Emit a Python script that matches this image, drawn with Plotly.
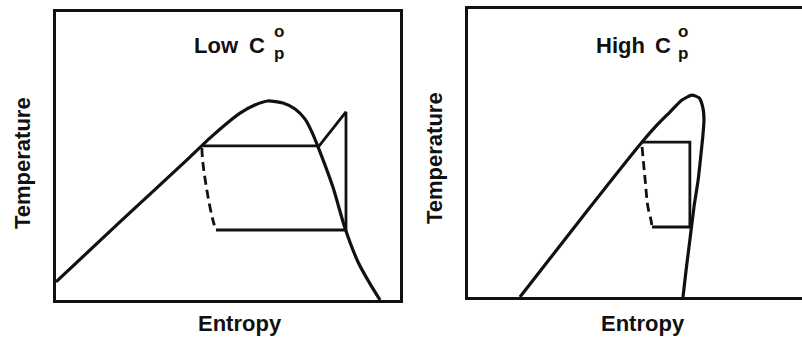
import plotly.graph_objects as go

W, H = 802, 338

# --- Low Cp panel (entropy / temperature in arbitrary 0-100 units) ---
low_dome_s = [0.0, 18.6, 39.0, 44.8, 49.1, 53.5, 57.8, 61.6, 66.0, 69.5, 72.4, 74.4,
              76.2, 80.5, 84.0, 87.8, 91.3, 94.2]
low_dome_t = [6.3, 27.1, 49.7, 56.3, 60.8, 64.9, 67.7, 69.1, 68.4, 66.3, 62.8, 58.3,
              53.1, 39.2, 25.0, 13.2, 5.6, 0.0]

low_cycle_s = [46.5, 84.3, 84.3, 76.5, 42.7]
low_cycle_t = [24.3, 24.3, 65.3, 53.5, 53.5]

low_pump_s = [42.4, 42.7, 44.2, 45.6, 46.5]
low_pump_t = [52.8, 47.6, 35.8, 27.8, 24.3]

# --- High Cp panel ---
high_dome_s = [15.1, 32.8, 50.6, 54.7, 58.7, 62.2, 65.1, 67.2, 68.3, 68.6, 68.3, 67.7,
               66.9, 65.7, 64.5, 63.4, 62.5]
high_dome_t = [0.0, 27.1, 53.8, 59.4, 64.2, 68.4, 70.1, 69.1, 65.6, 61.5, 56.3, 49.3,
               40.6, 31.3, 19.8, 9.4, 0.0]

high_cycle_s = [53.5, 64.5, 64.5, 50.6]
high_cycle_t = [24.3, 24.3, 53.8, 53.8]

high_pump_s = [50.6, 51.5, 52.3, 53.2, 53.5]
high_pump_t = [52.1, 40.6, 31.3, 26.7, 24.3]

panel_titles = ["Low", "High"]
x_title = "Entropy"
y_title = "Temperature"

INK = "#111111"
FONT = "Liberation Sans, Arial, sans-serif"


def px(x):
    return x / W


def py(y):
    return 1 - y / H


fig = go.Figure()

solid = dict(color=INK, width=3.2)
thin = dict(color=INK, width=2.8)
dash = dict(color=INK, width=2.8, dash="9px,5px")

fig.add_trace(go.Scatter(x=low_dome_s, y=low_dome_t, mode="lines",
                         line=dict(solid, shape="spline", smoothing=0.6),
                         xaxis="x", yaxis="y"))
fig.add_trace(go.Scatter(x=low_cycle_s, y=low_cycle_t, mode="lines", line=thin,
                         xaxis="x", yaxis="y"))
fig.add_trace(go.Scatter(x=low_pump_s, y=low_pump_t, mode="lines",
                         line=dict(dash, shape="spline"), xaxis="x", yaxis="y"))

fig.add_trace(go.Scatter(x=high_dome_s, y=high_dome_t, mode="lines",
                         line=dict(solid, shape="spline", smoothing=0.6),
                         xaxis="x2", yaxis="y2"))
fig.add_trace(go.Scatter(x=high_cycle_s, y=high_cycle_t, mode="lines", line=thin,
                         xaxis="x2", yaxis="y2"))
fig.add_trace(go.Scatter(x=high_pump_s, y=high_pump_t, mode="lines",
                         line=dict(dash, shape="spline"), xaxis="x2", yaxis="y2"))

frame = dict(showline=True, linecolor=INK, linewidth=3, showgrid=False,
             zeroline=False, showticklabels=False, ticks="")

fig.update_layout(
    width=W, height=H,
    margin=dict(l=0, r=0, t=0, b=0),
    paper_bgcolor="white", plot_bgcolor="white",
    showlegend=False,
    xaxis=dict(frame, domain=[px(56), px(400)], range=[0, 100], mirror=True),
    yaxis=dict(frame, domain=[py(300), py(12)], range=[0, 100], mirror=True),
    xaxis2=dict(frame, domain=[px(468), 1.0], range=[0, (W - 468) / 344 * 100],
                mirror=True, anchor="y2"),
    yaxis2=dict(frame, domain=[py(297), py(9)], range=[0, 100], mirror=False,
                anchor="x2"),
)

ann = []
text_font = dict(family=FONT, size=22, color=INK)
small_font = dict(family=FONT, size=17, color=INK)


def label(text, x, y, font, xanchor="left", angle=0):
    ann.append(dict(text=text, x=px(x), y=py(y), xref="paper", yref="paper",
                    xanchor=xanchor, yanchor="middle", showarrow=False,
                    font=font, textangle=angle))


# panel titles: "Low C°p" / "High C°p"
for word, x_word, x_c, x_sub in [(panel_titles[0], 192, 247, 272),
                                 (panel_titles[1], 594, 653, 676)]:
    label("<b>" + word + "</b>", x_word, 45, text_font)
    label("<b>C</b>", x_c, 45, text_font)
    label("<b>o</b>", x_sub, 31, small_font)
    label("<b>p</b>", x_sub, 53, small_font)

# axis titles
for cx in (240, 643):
    label("<b>" + x_title + "</b>", cx, 323, text_font, xanchor="center")
for cx, cy in ((22, 163), (435, 158)):
    label("<b>" + y_title + "</b>", cx, cy, text_font, xanchor="center", angle=-90)

fig.update_layout(annotations=ann)
fig.write_html("out.html")
